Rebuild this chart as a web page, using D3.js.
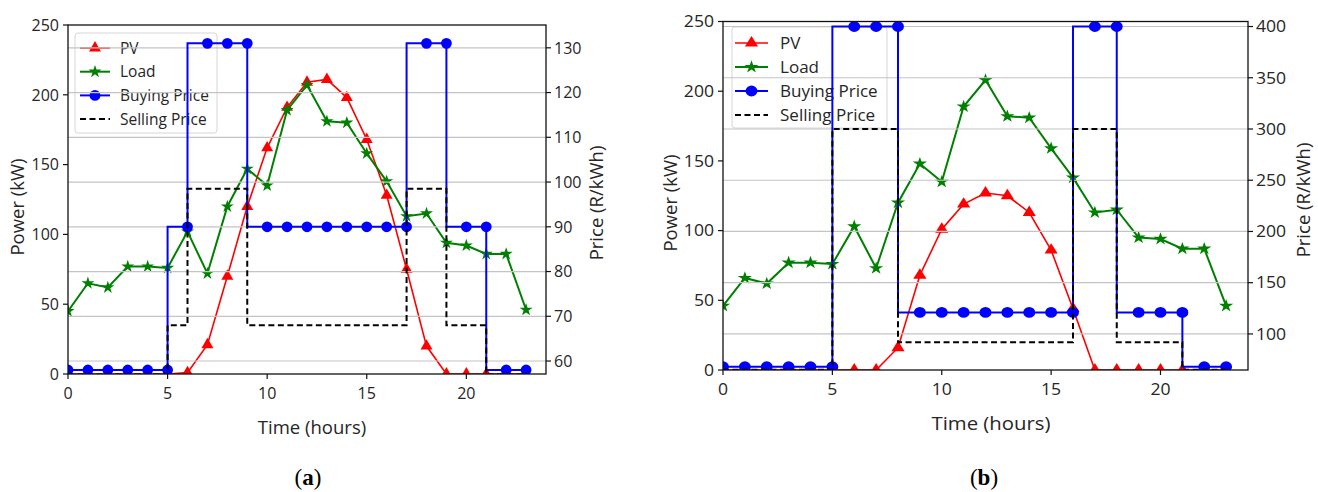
<!DOCTYPE html>
<html>
<head>
<meta charset="utf-8">
<script src="https://cdn.jsdelivr.net/npm/d3@7"></script>
<style>
  body { margin: 0; background: #fff; }
  svg { display: block; }
  text { font-family: "Open Sans", sans-serif; fill: #262626; }
</style>
</head>
<body>
<svg id="chart" width="1318" height="492"></svg>
<script>
// hours of the day
const hours = [0,1,2,3,4,5,6,7,8,9,10,11,12,13,14,15,16,17,18,19,20,21,22,23]

// panel (a)
const pvA = [0,0,0,0,0,0,1,21,70,120,162,191,209,211,198,168,128,75,20,0,0,0,0,0]
const loadA = [45,65,62,77,77,76,102,72,120,147,135,189,207,181,180,158,138,113,115,94,92,86,86,46]
const buyA = [58,58,58,58,58,58,90,131,131,131,90,90,90,90,90,90,90,90,131,131,90,90,58,58]
const sellA = [57,57,57,57,57,57,68,98.5,98.5,98.5,68,68,68,68,68,68,68,68,98.5,98.5,68,68,57,57]

// panel (b)
const pvB = [0,0,0,0,0,0,0,0,16,68,101,119,127,125,113,86,44,0,0,0,0,0,0,0]
const loadB = [46,66,62,77,77,76,103,73,120,148,135,189,208,182,181,159,138,113,115,95,94,87,87,46]
const buyB = [68,68,68,68,68,68,400,400,400,121,121,121,121,121,121,121,121,400,400,121,121,121,68,68]
const sellB = [65,65,65,65,65,65,300,300,300,92,92,92,92,92,92,92,92,300,300,92,92,92,65,65]

// ticks and labels
const xTicks = [0,5,10,15,20]
const powerTicks = [0,50,100,150,200,250]
const priceTicksA = [60,70,80,90,100,110,120,130]
const priceTicksB = [100,150,200,250,300,350,400]
const legendNames = ["PV", "Load", "Buying Price", "Selling Price"]

const svg = d3.select("#chart")

function drawPanel(p) {
  const g = svg.append("g")
  const sx = p.sx

  const x = d3.scaleLinear().domain([0, 24]).range([p.x0, p.x1])
  const yP = d3.scaleLinear().domain([0, 250]).range([p.yBot, p.yTop])
  const yR = d3.scaleLinear().domain(p.priceDomain).range([p.yBot, p.yTop])

  // text helper, panel (b) is stretched a bit sideways
  function txt(px, py, s, anchor, size, rot) {
    let tr = "translate(" + px + "," + py + ")"
    if (rot) tr += " rotate(" + rot + ")"
    else tr += " scale(" + sx + ",1)"
    return g.append("text")
      .attr("transform", tr)
      .attr("text-anchor", anchor)
      .style("font-size", size + "px")
      .text(s)
  }

  g.append("clipPath").attr("id", "clip" + p.id)
    .append("rect")
    .attr("x", p.x0).attr("y", p.yTop)
    .attr("width", p.x1 - p.x0).attr("height", p.yBot - p.yTop)

  const sym = {
    tri: d3.symbol().type(d3.symbolTriangle).size(62),
    star: d3.symbol().type(d3.symbolStar).size(52),
    dot: d3.symbol().type(d3.symbolCircle).size(92)
  }

  const series = [
    { vals: p.pv, y: yP, color: "#ff0000", w: 1.6, mark: "tri", curve: d3.curveLinear },
    { vals: p.load, y: yP, color: "#008000", w: 2, mark: "star", curve: d3.curveLinear },
    { vals: p.buy, y: yR, color: "#0000ff", w: 2, mark: "dot", curve: d3.curveStepBefore },
    { vals: p.sell, y: yR, color: "#000000", w: 2, mark: null, curve: d3.curveStepBefore, dash: "6,3.5" }
  ]

  function drawSeries(s) {
    const cg = g.append("g").attr("clip-path", "url(#clip" + p.id + ")")
    const line = d3.line()
      .x((d, i) => x(hours[i]))
      .y(d => s.y(d))
      .curve(s.curve)
    cg.append("path")
      .attr("d", line(s.vals))
      .attr("fill", "none")
      .attr("stroke", s.color)
      .attr("stroke-width", s.w)
      .attr("stroke-dasharray", s.dash || null)
    if (s.mark) {
      cg.selectAll(".m")
        .data(s.vals)
        .enter()
        .append("path")
        .attr("transform", (d, i) => "translate(" + x(hours[i]) + "," + s.y(d) + ") scale(" + sx + ",1)")
        .attr("d", sym[s.mark]())
        .attr("fill", s.color)
    }
  }

  // power axis lines first
  drawSeries(series[0])
  drawSeries(series[1])

  // legend (belongs to the power axis)
  const L = p.legend
  g.append("rect")
    .attr("x", L.x).attr("y", L.y)
    .attr("width", L.w).attr("height", L.h)
    .attr("rx", 3)
    .attr("fill", "#fff").attr("fill-opacity", 0.8)
    .attr("stroke", "#d6d6d6").attr("stroke-width", 1)
  series.forEach((s, i) => {
    const ly = L.row0 + i * L.step
    g.append("line")
      .attr("x1", L.lx1).attr("x2", L.lx2)
      .attr("y1", ly).attr("y2", ly)
      .attr("stroke", s.color)
      .attr("stroke-width", s.w)
      .attr("stroke-dasharray", s.dash || null)
    if (s.mark) {
      g.append("path")
        .attr("transform", "translate(" + (L.lx1 + L.lx2) / 2 + "," + ly + ") scale(" + sx + ",1)")
        .attr("d", sym[s.mark]())
        .attr("fill", s.color)
    }
    txt(L.tx, ly + 5.5, legendNames[i], "start", 15.5)
  })

  // price axis: grid then lines (drawn over the legend)
  g.selectAll(".grid")
    .data(p.priceTicks)
    .enter()
    .append("line")
    .attr("x1", p.x0).attr("x2", p.x1)
    .attr("y1", d => yR(d)).attr("y2", d => yR(d))
    .attr("stroke", "#c4c4c4")
    .attr("stroke-width", 1.2)
  drawSeries(series[2])
  drawSeries(series[3])

  // frame
  g.append("rect")
    .attr("x", p.x0).attr("y", p.yTop)
    .attr("width", p.x1 - p.x0).attr("height", p.yBot - p.yTop)
    .attr("fill", "none")
    .attr("stroke", "#111")
    .attr("stroke-width", 1.3)

  // ticks
  xTicks.forEach(t => {
    g.append("line").attr("x1", x(t)).attr("x2", x(t))
      .attr("y1", p.yBot).attr("y2", p.yBot + 5)
      .attr("stroke", "#111").attr("stroke-width", 1.2)
    txt(x(t), p.yBot + p.xTickDy, t, "middle", 16)
  })
  powerTicks.forEach(t => {
    g.append("line").attr("x1", p.x0 - 5).attr("x2", p.x0)
      .attr("y1", yP(t)).attr("y2", yP(t))
      .attr("stroke", "#111").attr("stroke-width", 1.2)
    txt(p.x0 - 9, yP(t) + 5.8, t, "end", 16)
  })
  p.priceTicks.forEach(t => {
    g.append("line").attr("x1", p.x1).attr("x2", p.x1 + 5)
      .attr("y1", yR(t)).attr("y2", yR(t))
      .attr("stroke", "#111").attr("stroke-width", 1.2)
    txt(p.x1 + 8, yR(t) + 5.8, t, "start", 16)
  })

  // axis labels
  txt(p.timeX, p.timeY, "Time (hours)", "middle", 18.5)
  txt(p.powX, p.powY, "Power (kW)", "middle", 18.5, -90)
  txt(p.priX, p.priY, "Price (R/kWh)", "middle", 18.5, -90)

  // caption
  const cap = g.append("text")
    .attr("x", p.capX).attr("y", 485)
    .attr("text-anchor", "middle")
    .style("font-family", "'Liberation Serif', serif")
    .style("font-size", "23px")
    .style("fill", "#000")
  cap.append("tspan").text("(")
  cap.append("tspan").style("font-weight", "bold").text(p.id)
  cap.append("tspan").text(")")
}

drawPanel({
  id: "a", sx: 1,
  x0: 68, x1: 546, yTop: 25, yBot: 374,
  priceDomain: [57.1, 135.1], priceTicks: priceTicksA,
  pv: pvA, load: loadA, buy: buyA, sell: sellA,
  legend: { x: 75, y: 33, w: 142, h: 100, row0: 48, step: 23.7, lx1: 80, lx2: 110, tx: 120 },
  xTickDy: 24.5,
  timeX: 312, timeY: 434,
  powX: 24, powY: 207,
  priX: 603, priY: 203,
  capX: 308
})

drawPanel({
  id: "b", sx: 1.1,
  x0: 723, x1: 1248, yTop: 21.5, yBot: 370,
  priceDomain: [64.8, 404.9], priceTicks: priceTicksB,
  pv: pvB, load: loadB, buy: buyB, sell: sellB,
  legend: { x: 732, y: 27, w: 155, h: 101, row0: 43, step: 24, lx1: 735, lx2: 768, tx: 780 },
  xTickDy: 24.5,
  timeX: 991, timeY: 430,
  powX: 677, powY: 203,
  priX: 1310, priY: 200,
  capX: 984
})
</script>
</body>
</html>
